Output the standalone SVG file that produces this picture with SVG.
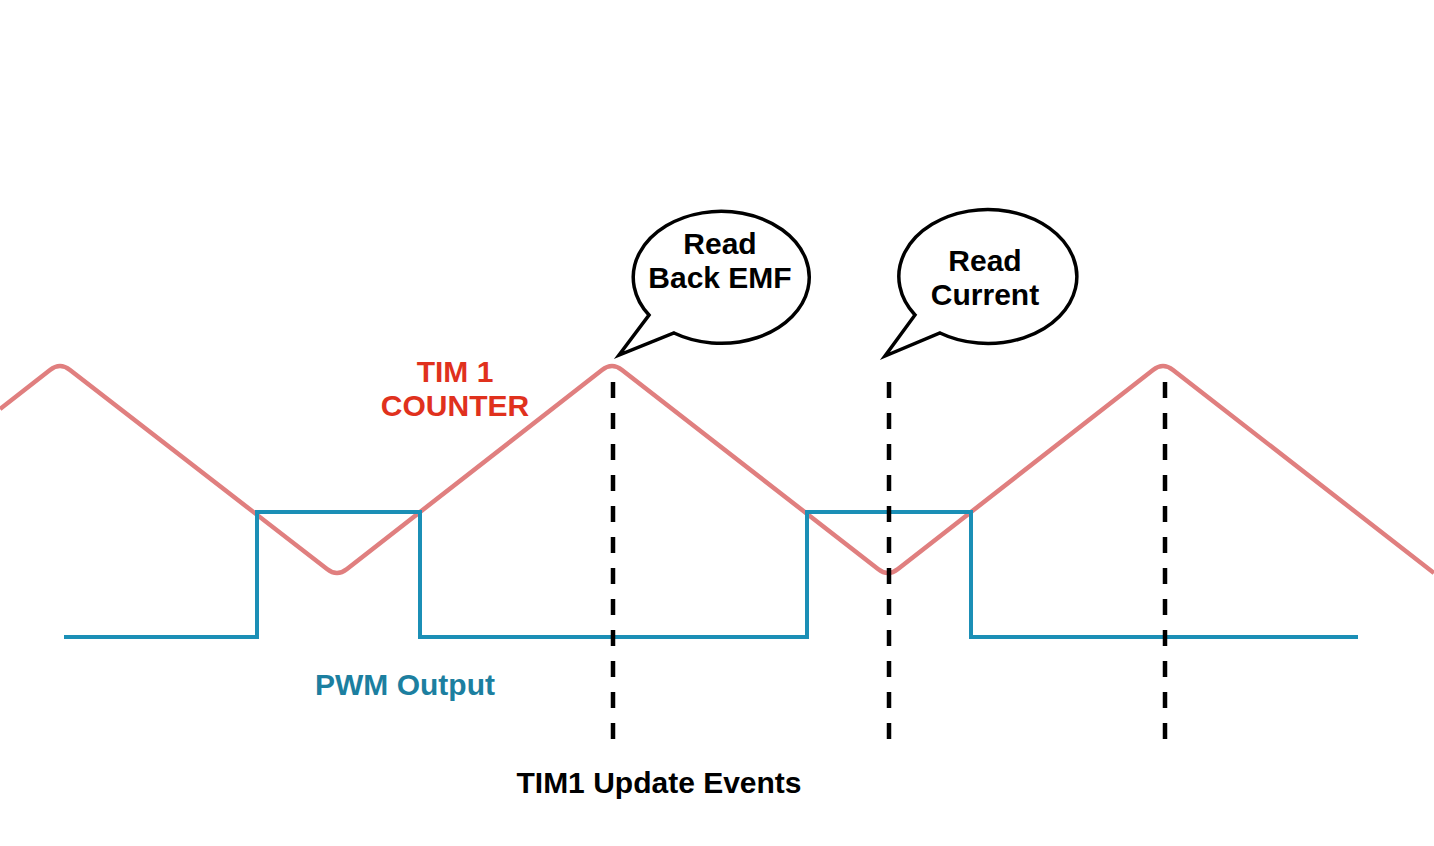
<svg xmlns="http://www.w3.org/2000/svg" width="1434" height="846" viewBox="0 0 1434 846">
<style>
.lbl{font-family:"Liberation Sans",Arial,sans-serif;font-weight:bold;font-size:30px;text-anchor:middle}
.counter{fill:none;stroke:#e07f7f;stroke-width:4.5;stroke-linejoin:round}
.pwm{fill:none;stroke:#1b8fb6;stroke-width:4;stroke-linejoin:miter}
.evt{stroke:#000;stroke-width:4.5;stroke-dasharray:16 15}
.bubble{fill:#fff;stroke:#000;stroke-width:3.5;stroke-linejoin:miter}
</style>
<rect width="1434" height="846" fill="#fff"/>
<g id="connectors">
<path id="tim1-counter-wave" class="counter" d="M0 409 L50 370 Q60 362 70 370 L327 569 Q337 577 347 569 L602 370 Q612 362 622 370 L878 569 Q888 577 898 569 L1153 370 Q1163 362 1173 370 L1434 573"/>
<path id="pwm-wave" class="pwm" d="M64 637 H257 V512 H420 V637 H807 V512 H971 V637 H1358"/>
<line id="event1" class="evt" x1="613" y1="382" x2="613" y2="739"/>
<line id="event2" class="evt" x1="889" y1="382" x2="889" y2="739"/>
<line id="event3" class="evt" x1="1165" y1="382" x2="1165" y2="739"/>
</g>
<g id="bubble-back-emf">
<path class="bubble" d="M649 315 A88 66 0 1 1 674 333 L619 355 Z"/>
<text class="lbl" x="720" y="254" fill="#000">Read</text>
<text class="lbl" x="720" y="288" fill="#000">Back EMF</text>
</g>
<g id="bubble-current">
<path class="bubble" d="M915 315 A89 67 0 1 1 940 333 L885 356 Z"/>
<text class="lbl" x="985" y="271" fill="#000">Read</text>
<text class="lbl" x="985" y="305" fill="#000">Current</text>
</g>
<g id="label-counter">
<text class="lbl" x="455" y="382" fill="#e0311d">TIM 1</text>
<text class="lbl" x="455" y="416" fill="#e0311d">COUNTER</text>
</g>
<g id="label-pwm">
<text class="lbl" x="405" y="695" fill="#1c7fa0">PWM Output</text>
</g>
<g id="label-events">
<text class="lbl" x="659" y="793" fill="#000">TIM1 Update Events</text>
</g>
</svg>
